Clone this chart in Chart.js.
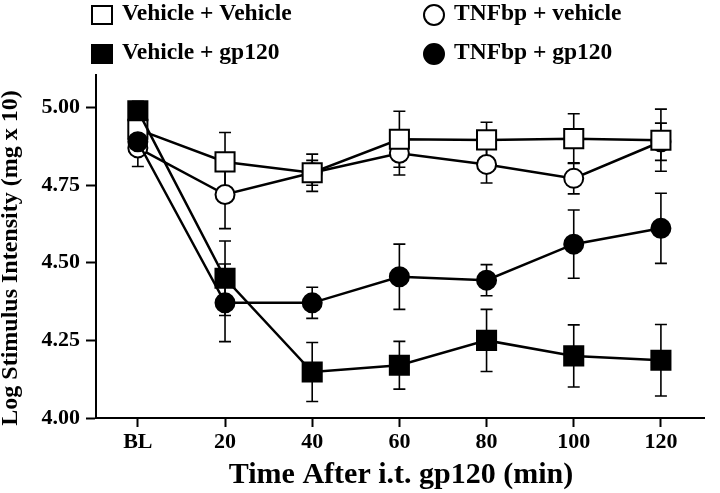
<!DOCTYPE html>
<html lang="en">
<head>
  <meta charset="UTF-8" />
  <title>Log Stimulus Intensity after i.t. gp120</title>
  <script src="https://cdn.jsdelivr.net/npm/chart.js"></script>
  <style>
    body { margin: 0; background: #fff; }
    #wrap { width: 720px; height: 493px; }
  </style>
</head>
<body>
  <div id="wrap"><canvas id="chart" width="720" height="493"></canvas></div>

  <script>
    // time points and y ticks
    const xLabels = ['BL', '20', '40', '60', '80', '100', '120'];
    const yTicks = [4.00, 4.25, 4.50, 4.75, 5.00];

    // group means (log stimulus intensity) and SEM
    const vehVeh = [4.93, 4.825, 4.79, 4.898, 4.896, 4.90, 4.895];
    const vehVehErr = [0.03, 0.095, 0.06, 0.09, 0.057, 0.08, 0.10];

    const vehGp = [4.99, 4.45, 4.148, 4.17, 4.25, 4.20, 4.186];
    const vehGpErr = [0.03, 0.12, 0.095, 0.077, 0.10, 0.10, 0.115];

    const tnfVeh = [4.87, 4.72, 4.79, 4.853, 4.817, 4.772, 4.89];
    const tnfVehErr = [0.06, 0.11, 0.04, 0.07, 0.06, 0.05, 0.06];

    const tnfGp = [4.89, 4.371, 4.371, 4.455, 4.444, 4.56, 4.611];
    const tnfGpErr = [0.03, 0.125, 0.05, 0.105, 0.05, 0.11, 0.113];

    const serif = 'Liberation Serif, "Times New Roman", serif';

    function toPoints(values) {
      return values.map((v, i) => ({ x: i, y: v }));
    }

    function series(label, values, errs, style, filled, order) {
      return {
        label: label,
        data: toPoints(values),
        errors: errs,
        order: order,
        borderColor: '#000',
        borderWidth: 2.5,
        tension: 0,
        pointStyle: style,
        pointRadius: style === 'rect' ? 13.5 : 9.5,
        pointHoverRadius: style === 'rect' ? 13.5 : 9.5,
        pointBorderWidth: 2,
        pointBorderColor: '#000',
        pointBackgroundColor: filled ? '#000' : '#fff',
        filled: filled,
        clip: false
      };
    }

    function drawMarker(ctx, style, filled, x, y) {
      ctx.save();
      ctx.lineWidth = 2;
      ctx.strokeStyle = '#000';
      ctx.fillStyle = filled ? '#000' : '#fff';
      ctx.beginPath();
      if (style === 'rect') ctx.rect(x - 10, y - 9, 20, 18);
      else ctx.arc(x, y, 10, 0, Math.PI * 2);
      ctx.fill();
      ctx.stroke();
      ctx.restore();
    }

    // SEM bars, drawn under the lines and markers
    const errorBars = {
      id: 'errorBars',
      beforeDatasetsDraw(chart) {
        const ctx = chart.ctx;
        const xs = chart.scales.x, ys = chart.scales.y;
        ctx.save();
        ctx.strokeStyle = '#000';
        ctx.lineWidth = 1.6;
        chart.data.datasets.forEach(ds => {
          ds.data.forEach((p, i) => {
            const e = ds.errors[i];
            const px = xs.getPixelForValue(p.x);
            const top = ys.getPixelForValue(p.y + e);
            const bot = ys.getPixelForValue(p.y - e);
            ctx.beginPath();
            ctx.moveTo(px, top); ctx.lineTo(px, bot);
            ctx.moveTo(px - 6, top); ctx.lineTo(px + 6, top);
            ctx.moveTo(px - 6, bot); ctx.lineTo(px + 6, bot);
            ctx.stroke();
          });
        });
        ctx.restore();
      }
    };

    // two-column legend at the top and the axis titles
    const legendSpots = [[102, 15], [102, 54], [434, 15], [434, 54]];
    const decorations = {
      id: 'decorations',
      afterDraw(chart) {
        const ctx = chart.ctx;
        ctx.save();
        ctx.fillStyle = '#000';
        ctx.textBaseline = 'middle';
        ctx.textAlign = 'left';
        ctx.font = 'bold 23.5px ' + serif;
        chart.data.datasets.forEach((ds, i) => {
          const [lx, ly] = legendSpots[i];
          drawMarker(ctx, ds.pointStyle, ds.filled, lx, ly);
          ctx.fillText(ds.label, lx + 20, ly - 1);
        });

        ctx.textAlign = 'center';
        ctx.font = 'bold 30px ' + serif;
        ctx.fillText('Time After i.t. gp120 (min)', 401, 475);

        ctx.translate(11, 258);
        ctx.rotate(-Math.PI / 2);
        ctx.font = 'bold 24px ' + serif;
        ctx.fillText('Log Stimulus Intensity (mg x 10)', 0, 0);
        ctx.restore();
      }
    };

    const ctx = document.getElementById('chart').getContext('2d');

    new Chart(ctx, {
      type: 'line',
      data: {
        datasets: [
          series('Vehicle + Vehicle', vehVeh, vehVehErr, 'rect', false, 2),
          series('Vehicle + gp120', vehGp, vehGpErr, 'rect', true, 1),
          series('TNFbp + vehicle', tnfVeh, tnfVehErr, 'circle', false, 3),
          series('TNFbp + gp120', tnfGp, tnfGpErr, 'circle', true, 0)
        ]
      },
      options: {
        responsive: false,
        animation: false,
        layout: { padding: { top: 75, right: 3, left: 0, bottom: 0 } },
        plugins: {
          legend: { display: false },
          tooltip: { enabled: false }
        },
        scales: {
          x: {
            type: 'linear',
            min: -0.48,
            max: 6.5,
            afterBuildTicks: s => { s.ticks = xLabels.map((_, i) => ({ value: i })); },
            afterFit: s => { s.height = 75; },
            grid: { drawOnChartArea: false, drawTicks: true, tickLength: 9, tickColor: '#000', tickWidth: 2 },
            border: { display: true, color: '#000', width: 2 },
            ticks: {
              color: '#000',
              padding: 2,
              autoSkip: false,
              maxRotation: 0,
              font: { family: serif, size: 22, weight: 'bold' },
              callback: (v, i) => xLabels[i]
            }
          },
          y: {
            type: 'linear',
            min: 4.0,
            max: 5.105,
            afterBuildTicks: s => { s.ticks = yTicks.map(v => ({ value: v })); },
            afterFit: s => { s.width = 96; },
            grid: { drawOnChartArea: false, drawTicks: true, tickLength: 10, tickColor: '#000', tickWidth: 2 },
            border: { display: true, color: '#000', width: 2 },
            ticks: {
              color: '#000',
              padding: 6,
              font: { family: serif, size: 22, weight: 'bold' },
              callback: v => v.toFixed(2)
            }
          }
        }
      },
      plugins: [errorBars, decorations]
    });
  </script>
</body>
</html>
